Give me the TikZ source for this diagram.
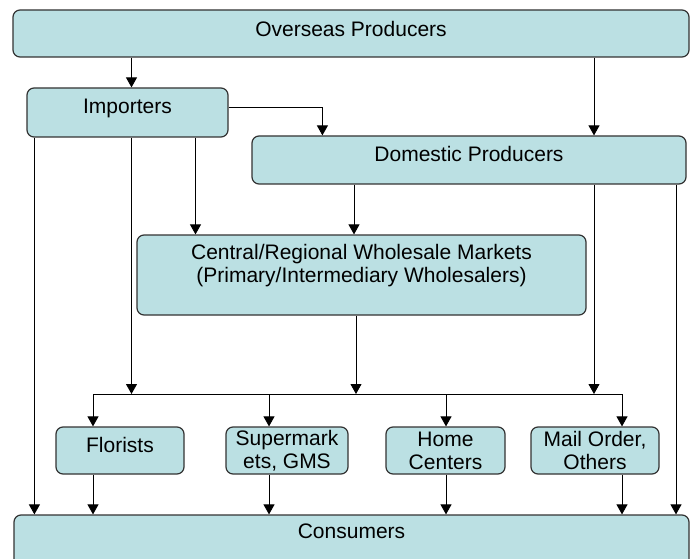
\documentclass[tikz,border=0pt]{standalone}
\usepackage{fontspec}
\setmainfont{Liberation Sans}
\usetikzlibrary{arrows.meta}
\definecolor{boxfill}{RGB}{187,224,227}

\begin{document}
\begin{tikzpicture}[
    x=1pt, y=-1pt,
    box/.style={draw=black!80, line width=1.2pt, fill=boxfill, rounded corners=7pt, inner sep=0pt, align=center, font=\fontsize{21}{23}\selectfont},
    single/.style={box, text height=15pt},
    arrow/.style={->, >={Triangle[width=11pt,length=10pt]}, line width=0.9pt}
]
\useasboundingbox (0,0) rectangle (691,559);

% Producers
\node[single, minimum width=676pt, minimum height=47pt, text depth=8pt] (over) at (351,33.5) {Overseas Producers};
\node[single, minimum width=201pt, minimum height=49pt, text depth=12pt] (imp) at (127.5,112.5) {Importers};
\node[single, minimum width=434pt, minimum height=48pt, text depth=11pt] (dom) at (469,160) {Domestic Producers};

% Wholesale
\node[box, minimum width=449pt, minimum height=80pt, text height=38pt, text depth=23pt] (cwm) at (361.5,275) {Central/Regional Wholesale Markets\\(Primary/Intermediary Wholesalers)};

% Retailers
\node[single, minimum width=128pt, minimum height=47pt, text depth=11pt] (flo) at (120,450.5) {Florists};
\node[box, minimum width=122pt, minimum height=47pt] (sup) at (287,450.5) {Supermark\\ets, GMS};
\node[box, minimum width=119pt, minimum height=47pt] (home) at (445.5,450.5) {Home\\Centers};
\node[box, minimum width=128pt, minimum height=47pt] (mail) at (595,450.5) {Mail Order,\\Others};

% Consumers
\node[single, minimum width=675pt, minimum height=60pt, text depth=29pt] (cons) at (351.5,545) {Consumers};

% Junction
\coordinate (d1) at (93,394);
\coordinate (d2) at (269,394);
\coordinate (d3) at (446,394);
\coordinate (d4) at (622,394);
\draw[line width=0.9pt] (d1) -- (d4);

% Arrows
\draw[arrow] ([xshift=4pt]imp.north |- over.south) -- ([xshift=4pt]imp.north);
\draw[arrow] ([xshift=125pt]dom.north |- over.south) -- ([xshift=125pt]dom.north);
\draw[arrow] ([yshift=5.5pt]imp.east) -| ([xshift=71pt]dom.north west);
\draw[arrow] ([xshift=8pt]imp.south west) -- ([xshift=8pt]imp.south west |- cons.north);
\draw[arrow] ([xshift=4pt]imp.south) -- ([xshift=4pt]imp.south |- d1);
\draw[arrow] ([xshift=68pt]imp.south) -- ([xshift=68pt]imp.south |- cwm.north);
\draw[arrow] ([xshift=-115pt]dom.south) -- ([xshift=-115pt]dom.south |- cwm.north);
\draw[arrow] ([xshift=125pt]dom.south) -- ([xshift=125pt]dom.south |- d4);
\draw[arrow] ([xshift=207pt]dom.south) -- ([xshift=207pt]dom.south |- cons.north);
\draw[arrow] ([xshift=-5.5pt]cwm.south) -- ([xshift=-5.5pt]cwm.south |- d1);

\draw[arrow] (d1) -- (d1 |- flo.north);
\draw[arrow] (d2) -- (d2 |- sup.north);
\draw[arrow] (d3) -- (d3 |- home.north);
\draw[arrow] (d4) -- (d4 |- mail.north);
\draw[arrow] (d1 |- flo.south) -- (d1 |- cons.north);
\draw[arrow] (d2 |- sup.south) -- (d2 |- cons.north);
\draw[arrow] (d3 |- home.south) -- (d3 |- cons.north);
\draw[arrow] (d4 |- mail.south) -- (d4 |- cons.north);

\end{tikzpicture}
\end{document}
